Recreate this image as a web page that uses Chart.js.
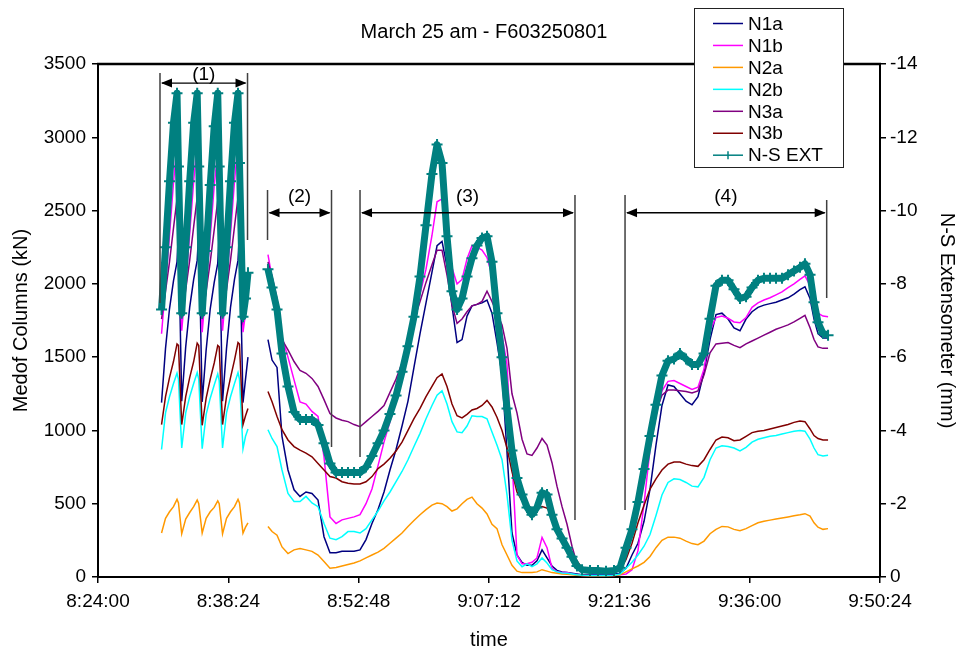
<!DOCTYPE html>
<html>
<head>
<meta charset="utf-8">
<title>March 25 am - F603250801</title>
<script src="https://cdn.jsdelivr.net/npm/chart.js@4.4.1/dist/chart.umd.min.js"></script>
<style>
  html, body { margin: 0; padding: 0; background: #fff; }
  #wrap { width: 959px; height: 654px; }
</style>
</head>
<body>
<div id="wrap"><canvas id="chart" width="959" height="654"></canvas></div>
<script>
// sample times in minutes after 8:24:00 (the null row is the logger gap)
const minutes = [
  7.02, 7.46, 7.90, 8.34, 8.73, 8.89, 9.25, 9.69, 10.13, 10.57, 10.96, 11.13, 11.51, 11.95, 12.40, 12.84, 13.23, 13.39, 13.76, 14.20, 14.64, 15.08, 15.47, 15.63, 16.02, 16.30, 16.57,
  17.68,
  18.78, 19.23, 19.78, 20.33, 20.99, 21.66, 22.32, 22.98, 23.64, 24.31, 24.97, 25.63, 26.30, 26.96, 27.62, 28.29, 28.95, 29.61, 30.27, 30.94,
  31.60, 32.26, 32.93, 33.59, 34.25, 34.91, 35.58, 36.24, 36.90, 37.46, 38.01, 38.56, 39.11, 39.67, 40.22, 40.77, 41.32, 41.87, 42.43, 42.98, 43.53, 44.08,
  44.64, 45.19, 45.74, 46.29, 46.85, 47.40, 47.95, 48.50, 49.06, 49.61, 50.16, 50.71, 51.27, 51.82, 52.37, 52.92, 53.48,
  54.36, 55.24, 56.13, 57.01, 57.67,
  58.34, 59.00, 59.66, 60.33, 60.99, 61.65, 62.31, 62.98, 63.64, 64.30, 64.97, 65.63, 66.29, 66.96, 67.62, 68.28, 68.94, 69.61, 70.27, 70.93, 71.60, 72.26, 72.92, 73.58, 74.25, 74.91, 75.57, 76.24, 76.90, 77.56, 78.11, 78.67, 79.11, 79.55, 80.10, 80.66
];

// column loads, kN
const n1a = [
  1190, 1560, 1830, 2020, 2150, 2350, 1200, 1570, 1840, 2030, 2160, 2360, 1195, 1550, 1830, 2010, 2140, 2340, 1200, 1560, 1840, 2030, 2160, 2360, 1190, 1350, 1500,
  null,
  1620, 1480, 1430, 960, 730, 595, 550, 580, 570, 525, 275, 165, 165, 175, 175, 175, 185, 255, 365, 460,
  580, 730, 870, 1030, 1200, 1430, 1660, 1870, 2080, 2260, 2290, 2120, 1850, 1600, 1620, 1780, 1850, 1860, 1870, 1890, 1800, 1600,
  1380, 850, 300, 150, 100, 80, 80, 110, 185, 130, 75, 45, 35, 30, 25, 20, 15,
  15, 15, 15, 18, 25,
  60, 150, 230, 380, 600, 900, 1170, 1310, 1300, 1250, 1200, 1175, 1230, 1400, 1620, 1790, 1800, 1760, 1700, 1680, 1760, 1810, 1840, 1855, 1865, 1875, 1890, 1905, 1930, 1960, 1980, 1900, 1760, 1660, 1630, 1630
];
const n1b = [
  1660, 1990, 2330, 2690, 2950, 2450, 1680, 2000, 2340, 2700, 2960, 2450, 1670, 1990, 2320, 2670, 2900, 2420, 1680, 2000, 2340, 2700, 2960, 2450, 1670, 1800, 1940,
  null,
  2200, 2040, 1800, 1640, 1500, 1345, 1195, 1180, 1130, 1095, 820, 410, 365, 390, 400, 410, 425, 500, 600, 760,
  920, 1060, 1200, 1360, 1550, 1750, 1930, 2100, 2330, 2560, 2580, 2370, 2110, 2000, 2030, 2170, 2260, 2250, 2230, 2180, 2060, 1900,
  1650, 1450, 800, 150, 90, 90, 100, 130, 270, 200, 60, 35, 30, 30, 20, 15, 10,
  10, 10, 10, 10, 15,
  20, 50, 180, 500, 870, 1100, 1270, 1335, 1340, 1320, 1300, 1280, 1295, 1420, 1680, 1770, 1780, 1765, 1740, 1735, 1770, 1840, 1870, 1890, 1905, 1925, 1945, 1975, 2000, 2030, 2055, 1990, 1870, 1800, 1780, 1775
];
const n2a = [
  300, 400, 445, 480, 530, 505, 295, 395, 440, 480, 525, 500, 300, 400, 445, 475, 520, 500, 295, 400, 445, 480, 530, 505, 300, 340, 370,
  null,
  345, 310, 285, 205, 160, 185, 195, 185, 175, 150, 105, 60, 65, 75, 85, 95, 110, 130, 150, 170,
  195, 230, 265, 300, 345, 385, 425, 460, 490, 505, 500, 480, 450, 465, 500, 530, 545, 500, 470, 430, 360, 330,
  220, 150, 80, 40, 30, 30, 30, 35, 50, 40, 30, 25, 20, 18, 15, 12, 10,
  8, 8, 8, 10, 15,
  35, 55, 75, 100, 140, 200, 250, 272, 272, 265, 245, 228, 220, 245, 295, 325, 345, 342, 325, 315, 330, 350, 370, 380, 388, 395, 402, 410, 418, 425, 432, 415, 370, 340, 325, 330
];
const n2b = [
  870, 1120, 1230, 1320, 1390, 1350, 880, 1120, 1230, 1320, 1395, 1350, 875, 1110, 1220, 1310, 1385, 1340, 880, 1120, 1230, 1320, 1395, 1350, 875, 960, 1010,
  null,
  1005, 945, 890, 730, 570, 515, 515, 550, 505, 480, 365, 265, 255, 275, 310, 310, 300, 330, 390, 450,
  520, 580, 650, 720, 800, 890, 980, 1080, 1170, 1240, 1270, 1180, 1060, 990, 985, 1030, 1100, 1095, 1095, 1080, 990, 900,
  800, 560, 250, 110, 70, 90, 70, 90, 130, 95, 50, 35, 28, 25, 20, 15, 12,
  10, 10, 10, 12, 20,
  60, 100, 150, 210, 290, 420, 560, 645, 670, 665, 645, 620, 615, 680, 800, 880, 895, 890, 880, 860, 885, 920, 940, 950, 960, 965, 975, 985, 995, 1000, 995, 940, 880, 835, 825, 830
];
const n3a = [
  1760, 1950, 2150, 2380, 2580, 2640, 1770, 1960, 2160, 2390, 2590, 2640, 1760, 1950, 2150, 2370, 2570, 2620, 1770, 1960, 2160, 2390, 2590, 2640, 1760, 1850, 1950,
  null,
  2150, 2050, 1900, 1620, 1550, 1470, 1410, 1390, 1355, 1300, 1210, 1115, 1085, 1070, 1060, 1040, 1025, 1060, 1095, 1130,
  1170, 1260, 1350, 1460, 1600, 1750, 1880, 2010, 2130, 2230, 2230, 2060, 1860, 1730, 1760, 1810, 1850, 1860, 1880, 1950, 1880, 1800,
  1720, 1560, 1250, 1120, 940, 840, 830, 880, 945, 900, 780, 620, 480, 360, 210, 90, 65,
  55, 50, 45, 50, 70,
  170, 280, 440, 690, 940, 1130, 1240, 1275, 1275, 1270, 1265, 1255, 1270, 1380, 1530, 1590, 1595, 1600, 1580, 1565, 1590, 1610, 1630, 1650, 1670, 1690, 1705, 1720, 1740, 1765, 1785, 1700, 1620, 1570, 1560, 1560
];
const n3b = [
  1040, 1230, 1360, 1470, 1590, 1580, 1040, 1230, 1360, 1470, 1595, 1580, 1035, 1220, 1350, 1460, 1580, 1570, 1040, 1230, 1360, 1480, 1600, 1590, 1040, 1100, 1150,
  null,
  1265, 1195, 1095, 1005, 935, 890, 865, 845, 820, 775, 730, 685, 675, 650, 640, 635, 635, 650, 685, 740,
  770, 810, 860, 920, 1000, 1080, 1150, 1230, 1300, 1360, 1385, 1300, 1180, 1100, 1085, 1110, 1140, 1150, 1170, 1205, 1160, 1090,
  1000, 880, 720, 580, 520, 490, 470, 470, 480, 470, 420, 340, 280, 220, 170, 110, 60,
  40, 35, 30, 35, 45,
  120, 230, 370, 490, 600, 670, 730, 770, 785, 785, 770, 760, 755, 800, 870, 935, 955, 950, 930, 935, 960, 985, 995, 1000, 1010, 1020, 1030, 1040, 1055, 1065, 1060, 1010, 965, 945, 935, 935
];
// N-S extensometer, mm (right axis)
const nsExt = [
  -7.3, -9.0, -10.8, -12.4, -13.2, -11.2, -7.2, -9.0, -10.8, -12.4, -13.2, -11.2, -7.2, -8.9, -10.7, -12.3, -13.2, -11.2, -7.2, -9.0, -10.8, -12.4, -13.2, -11.3, -7.1, -7.6, -8.3,
  null,
  -8.4, -7.9, -7.3, -6.1, -5.2, -4.5, -4.3, -4.3, -4.3, -4.15, -3.65, -3.1, -2.85, -2.85, -2.85, -2.85, -2.85, -3.0, -3.3, -3.65,
  -4.0, -4.45, -4.95, -5.6, -6.3, -7.1, -8.2, -9.6, -11.0, -11.8, -11.3, -9.3, -7.8, -7.3, -7.6, -8.2, -8.7, -9.05, -9.25, -9.3, -8.6, -7.2,
  -6.0, -4.6, -3.45, -2.7, -2.25, -1.9, -1.7, -1.9, -2.3, -2.25, -1.7, -1.3, -1.05, -0.8, -0.55, -0.3, -0.2,
  -0.18, -0.18, -0.16, -0.18, -0.25,
  -0.8, -1.3, -2.05, -2.95, -3.85, -4.7, -5.5, -5.9, -5.95, -6.1, -5.95, -5.8, -5.8, -6.1, -7.05, -7.95, -8.1, -8.1, -7.85, -7.6, -7.65, -7.9, -8.1, -8.15, -8.15, -8.15, -8.15, -8.25, -8.35, -8.45, -8.55, -8.25, -7.5, -6.95, -6.65, -6.6
];

const seriesNames = ['N1a', 'N1b', 'N2a', 'N2b', 'N3a', 'N3b', 'N-S EXT'];
const timeTicks = ['8:24:00', '8:38:24', '8:52:48', '9:07:12', '9:21:36', '9:36:00', '9:50:24'];
const kNTicks = [0, 500, 1000, 1500, 2000, 2500, 3000, 3500];
const mmTicks = [0, -2, -4, -6, -8, -10, -12, -14];

// test phases (1)..(4): bracket times in minutes after 8:24:00, heights in kN
const phaseLabels = ['(1)', '(2)', '(3)', '(4)'];
const phaseStart = [6.85, 18.73, 28.95, 58.23];
const phaseEnd = [16.52, 25.80, 52.70, 80.51];
const phaseArrowKN = [3370, 2485, 2485, 2485];
const phaseLabelKN = [3425, 2592, 2592, 2592];
const phaseStartLine = [[1869, 3439], [2299, 2640], [819, 2640], [457, 2606]];
const phaseEndLine = [[2299, 3439], [887, 2640], [389, 2606], [1903, 2572]];

const colors = ['#000080', '#FF00FF', '#FF9900', '#00FFFF', '#800080', '#800000', '#008080'];
const FONT = 'Arial, "Liberation Sans", sans-serif';

[n1a, n1b, n2a, n2b, n3a, n3b, nsExt].forEach((s, i) => {
    if (s.length !== minutes.length) console.error('length mismatch', seriesNames[i], s.length);
});

function toSec(t) {
    const p = t.split(':').map(Number);
    return p[0] * 3600 + p[1] * 60 + p[2];
}
function fmtTime(v) {
    const h = Math.floor(v / 3600);
    const m = Math.floor((v % 3600) / 60);
    const s = Math.round(v % 60);
    return h + ':' + String(m).padStart(2, '0') + ':' + String(s).padStart(2, '0');
}

const T0 = toSec(timeTicks[0]);
const toX = m => T0 + m * 60;
const points = vals => minutes.map((m, i) => ({ x: toX(m), y: vals[i] }));

const datasets = [n1a, n1b, n2a, n2b, n3a, n3b].map((vals, i) => ({
    label: seriesNames[i],
    data: points(vals),
    yAxisID: 'y',
    borderColor: colors[i],
    borderWidth: 1.5,
    pointRadius: 0,
    order: 7 - i
}));
datasets.push({
    label: seriesNames[6],
    data: points(nsExt),
    yAxisID: 'y2',
    borderColor: colors[6],
    borderWidth: 7,
    borderJoinStyle: 'round',
    pointStyle: 'cross',
    pointRadius: 5.5,
    pointBorderWidth: 2,
    pointBorderColor: colors[6],
    order: 0
});

// brackets with arrows and the phase labels
const phasePlugin = {
    id: 'phases',
    afterDatasetsDraw(chart) {
        const { ctx, chartArea, scales: { x, y } } = chart;
        ctx.save();

        // top edge of the plot frame
        ctx.strokeStyle = '#000';
        ctx.lineWidth = 2.5;
        ctx.beginPath();
        ctx.moveTo(chartArea.left - 1, chartArea.top);
        ctx.lineTo(chartArea.right + 1, chartArea.top);
        ctx.stroke();

        phaseLabels.forEach((lab, i) => {
            const x0 = x.getPixelForValue(toX(phaseStart[i]));
            const x1 = x.getPixelForValue(toX(phaseEnd[i]));

            ctx.strokeStyle = '#404040';
            ctx.lineWidth = 1.5;
            ctx.beginPath();
            ctx.moveTo(x0, y.getPixelForValue(phaseStartLine[i][0]));
            ctx.lineTo(x0, y.getPixelForValue(phaseStartLine[i][1]));
            ctx.moveTo(x1, y.getPixelForValue(phaseEndLine[i][0]));
            ctx.lineTo(x1, y.getPixelForValue(phaseEndLine[i][1]));
            ctx.stroke();

            const ya = y.getPixelForValue(phaseArrowKN[i]);
            ctx.strokeStyle = '#000';
            ctx.lineWidth = 1.3;
            ctx.beginPath();
            ctx.moveTo(x0 + 2, ya);
            ctx.lineTo(x1 - 2, ya);
            ctx.stroke();
            ctx.fillStyle = '#000';
            ctx.beginPath();
            ctx.moveTo(x0 + 1, ya);
            ctx.lineTo(x0 + 12, ya - 4.5);
            ctx.lineTo(x0 + 12, ya + 4.5);
            ctx.closePath();
            ctx.moveTo(x1 - 1, ya);
            ctx.lineTo(x1 - 12, ya - 4.5);
            ctx.lineTo(x1 - 12, ya + 4.5);
            ctx.closePath();
            ctx.fill();

            ctx.font = '19px ' + FONT;
            ctx.textAlign = 'center';
            ctx.textBaseline = 'middle';
            ctx.fillText(lab, (x0 + x1) / 2, y.getPixelForValue(phaseLabelKN[i]));
        });
        ctx.restore();
    }
};

// boxed legend sitting over the top-right corner of the plot
const legendPlugin = {
    id: 'boxLegend',
    afterDraw(chart) {
        const ctx = chart.ctx;
        const bx = 694, by = 8, bw = 149, bh = 159;
        ctx.save();
        ctx.fillStyle = '#fff';
        ctx.fillRect(bx, by, bw, bh);
        ctx.strokeStyle = '#222';
        ctx.lineWidth = 1;
        ctx.strokeRect(bx + 0.5, by + 0.5, bw, bh);
        ctx.font = '19px ' + FONT;
        ctx.textAlign = 'left';
        ctx.textBaseline = 'middle';
        seriesNames.forEach((name, i) => {
            const yy = by + 15.5 + i * 21.95;
            ctx.strokeStyle = colors[i];
            ctx.lineWidth = 1.5;
            ctx.beginPath();
            ctx.moveTo(713, yy);
            ctx.lineTo(743, yy);
            ctx.stroke();
            if (i === 6) {
                ctx.beginPath();
                ctx.moveTo(728, yy - 4);
                ctx.lineTo(728, yy + 4);
                ctx.stroke();
            }
            ctx.fillStyle = '#000';
            ctx.fillText(name, 748, yy + 1);
        });
        ctx.restore();
    }
};

Chart.defaults.font.family = FONT;
Chart.defaults.color = '#000';

new Chart(document.getElementById('chart'), {
    type: 'line',
    data: { datasets: datasets },
    options: {
        responsive: false,
        animation: false,
        devicePixelRatio: 1,
        layout: { padding: { left: 9 } },
        plugins: {
            legend: { display: false },
            tooltip: { enabled: false },
            title: {
                display: true,
                text: 'March 25 am - F603250801',
                font: { size: 20, weight: 'normal' },
                color: '#000',
                padding: { top: 20, bottom: 20 }
            }
        },
        scales: {
            x: {
                type: 'linear',
                min: toSec(timeTicks[0]),
                max: toSec(timeTicks[timeTicks.length - 1]),
                afterBuildTicks: s => { s.ticks = timeTicks.map(t => ({ value: toSec(t) })); },
                afterFit: s => { s.height = 77; },
                ticks: {
                    callback: v => fmtTime(v),
                    font: { size: 19 },
                    padding: 7,
                    maxRotation: 0,
                    autoSkip: false
                },
                grid: { drawOnChartArea: false, drawTicks: true, tickLength: 6, color: '#000', lineWidth: 1.5 },
                border: { color: '#000', width: 2 },
                title: { display: true, text: 'time', font: { size: 20 }, padding: { top: 0, bottom: 2 } }
            },
            y: {
                position: 'left',
                min: kNTicks[0],
                max: kNTicks[kNTicks.length - 1],
                afterBuildTicks: s => { s.ticks = kNTicks.map(v => ({ value: v })); },
                afterFit: s => { s.width = 89; },
                ticks: { font: { size: 19 }, padding: 6, callback: v => String(v) },
                grid: { drawOnChartArea: false, tickLength: 6, color: '#000', lineWidth: 1.5 },
                border: { color: '#000', width: 2 },
                title: { display: true, text: 'Medof Columns (kN)', font: { size: 20 }, padding: { top: 0, bottom: 0 } }
            },
            y2: {
                position: 'right',
                min: mmTicks[mmTicks.length - 1],
                max: mmTicks[0],
                reverse: true,
                afterBuildTicks: s => { s.ticks = mmTicks.map(v => ({ value: v })); },
                afterFit: s => { s.width = 79; },
                ticks: { font: { size: 19 }, padding: 4, callback: v => String(v) },
                grid: { drawOnChartArea: false, tickLength: 6, color: '#000', lineWidth: 1.5 },
                border: { color: '#000', width: 2 },
                title: { display: true, text: 'N-S Extensometer (mm)', font: { size: 20 }, padding: { top: 0, bottom: 0 } }
            }
        }
    },
    plugins: [phasePlugin, legendPlugin]
});
</script>
</body>
</html>
